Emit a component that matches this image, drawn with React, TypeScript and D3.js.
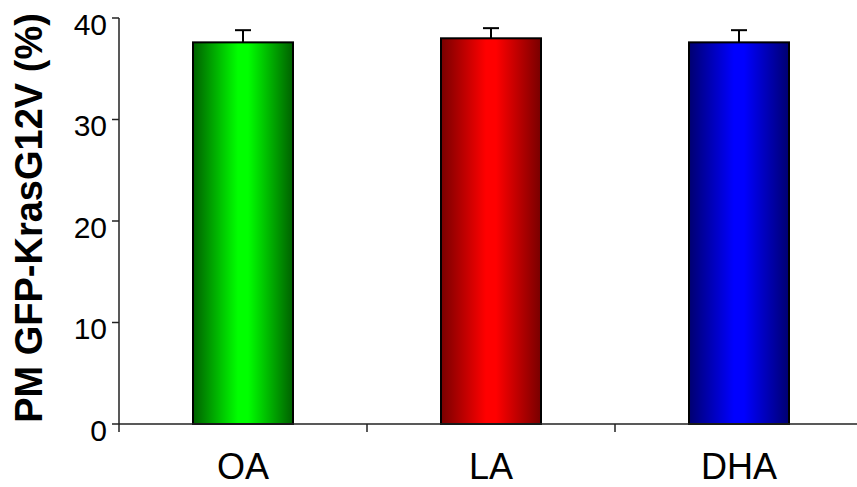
import React from "react";
import * as d3 from "d3";

const categories = ["OA", "LA", "DHA"];
const values = [37.6, 38.0, 37.6];
const errors = [1.2, 1.0, 1.2];
const brightColors = ["#00ff00", "#ff0000", "#0000ff"];
const darkColors = ["#006000", "#780000", "#000070"];
const yTicks = [0, 10, 20, 30, 40];

export default function App() {
  const W = 857, H = 487;
  const x0 = 119, x1 = 863, yTop = 18, yBot = 424;
  const x = d3.scaleBand<string>().domain(categories).range([x0, x1]).paddingInner(0).paddingOuter(0);
  const y = d3.scaleLinear().domain([0, 40]).range([yBot, yTop]);
  const bw = 100;
  const bandEdges = [x0, ...categories.map((c) => (x(c) as number) + x.bandwidth())];

  return (
    <svg width={W} height={H} style={{ position: "absolute", left: 0, top: 0, background: "#fff" }}
      fontFamily="'Liberation Sans', Arial, sans-serif">
      <defs>
        {categories.map((c, i) => (
          <linearGradient key={c} id={`g${i}`} x1="0" y1="0" x2="1" y2="0">
            <stop offset="0" stopColor={darkColors[i]} />
            <stop offset="0.45" stopColor={brightColors[i]} />
            <stop offset="0.55" stopColor={brightColors[i]} />
            <stop offset="1" stopColor={darkColors[i]} />
          </linearGradient>
        ))}
      </defs>
      {categories.map((c, i) => {
        const cx = (x(c) as number) + x.bandwidth() / 2;
        const top = y(values[i]);
        const et = y(values[i] + errors[i]);
        return (
          <g key={c}>
            <line x1={cx} x2={cx} y1={top} y2={et} stroke="#000" strokeWidth={2} />
            <line x1={cx - 8} x2={cx + 8} y1={et} y2={et} stroke="#000" strokeWidth={2} />
            <rect x={cx - bw / 2} y={top} width={bw} height={yBot - top} fill={`url(#g${i})`} stroke="#000" strokeWidth={2} />
          </g>
        );
      })}
      <line x1={x0} x2={x0} y1={yTop} y2={yBot} stroke="#222" strokeWidth={1.5} />
      {yTicks.map((t) => (
        <g key={t}>
          <line x1={x0 - 7} x2={x0} y1={y(t)} y2={y(t)} stroke="#222" strokeWidth={1.5} />
          <text x={x0 - 12} y={y(t) + 16.5} textAnchor="end" fontSize={30} fill="#000">{t}</text>
        </g>
      ))}
      <line x1={x0} x2={x1} y1={yBot} y2={yBot} stroke="#222" strokeWidth={1.5} />
      {bandEdges.map((e, i) => (
        <line key={i} x1={e} x2={e} y1={yBot} y2={yBot + 8} stroke="#222" strokeWidth={1.5} />
      ))}
      {categories.map((c) => (
        <text key={c} x={(x(c) as number) + x.bandwidth() / 2} y={479} textAnchor="middle" fontSize={36} fill="#000">{c}</text>
      ))}
      <text transform={`translate(42,218) rotate(-90)`} textAnchor="middle" fontSize={38} fontWeight="bold" fill="#000">
        PM GFP-KrasG12V (%)
      </text>
    </svg>
  );
}
